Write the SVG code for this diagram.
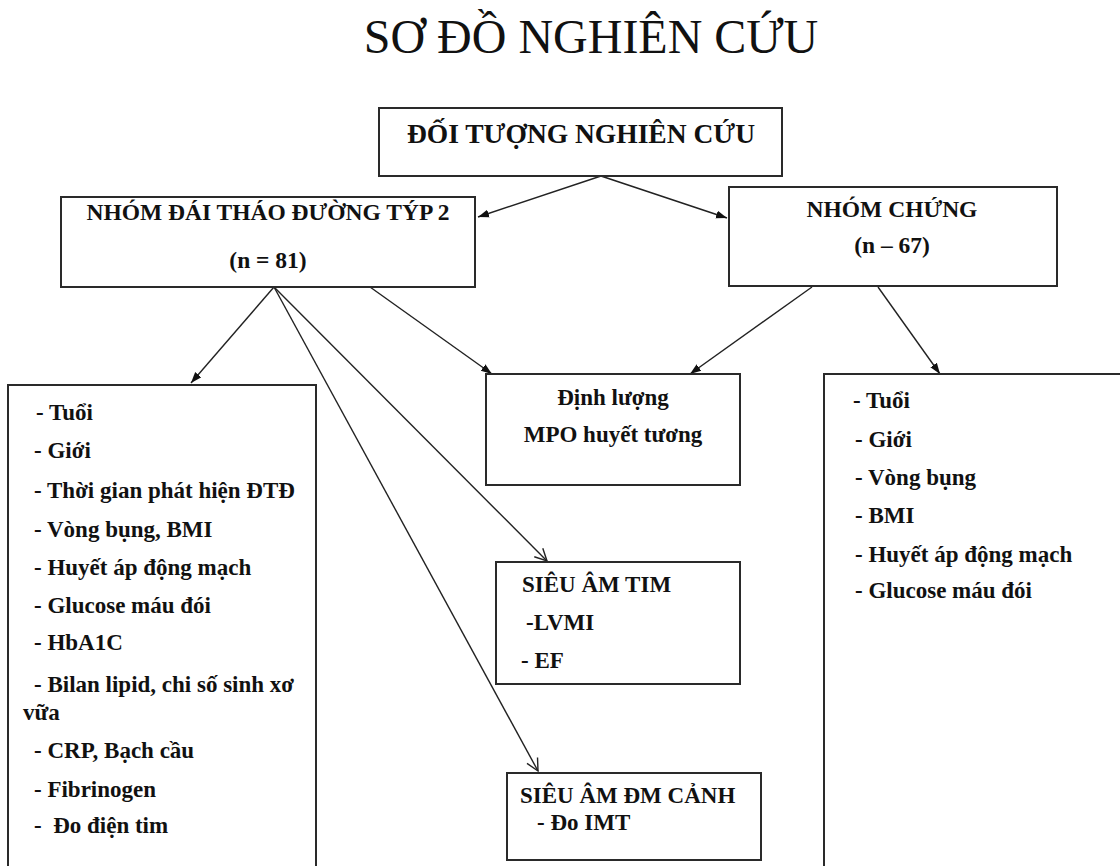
<svg xmlns="http://www.w3.org/2000/svg" width="1120" height="866" viewBox="0 0 1120 866">
<style>
.box{fill:#fff;stroke:#2a2a2a;stroke-width:2}
.t{font-family:"Liberation Serif","Times New Roman",serif;fill:#111;font-weight:bold;font-size:23px}
.h{font-size:23.5px}
.big{font-size:27.5px}
.c{text-anchor:middle}
.ln{stroke:#222;stroke-width:1.4;fill:none}
.f{marker-end:url(#fa)}
.o{marker-end:url(#oa)}
</style>
<defs>
<marker id="fa" markerWidth="12" markerHeight="10" refX="11" refY="5" orient="auto" markerUnits="userSpaceOnUse">
<path d="M0,1 L11,5 L0,9 Z" fill="#111"/>
</marker>
<marker id="oa" markerWidth="14" markerHeight="14" refX="13" refY="7" orient="auto" markerUnits="userSpaceOnUse">
<path d="M1,1 L13,7 L1,13" fill="none" stroke="#222" stroke-width="1.4"/>
</marker>
</defs>
<rect width="1120" height="866" fill="#fff"/>
<text x="591" y="53" text-anchor="middle" font-family="Liberation Serif,'Times New Roman',serif" font-size="48" fill="#111">SƠ ĐỒ NGHIÊN CỨU</text>

<g id="connectors">
<line class="ln f" x1="601" y1="176" x2="478" y2="217"/>
<line class="ln f" x1="601" y1="176" x2="727" y2="218"/>
<line class="ln f" x1="274" y1="287" x2="191" y2="383"/>
<line class="ln f" x1="370" y1="287" x2="492" y2="374"/>
<line class="ln o" x1="274" y1="287" x2="547" y2="561"/>
<line class="ln o" x1="274" y1="287" x2="538" y2="771"/>
<line class="ln f" x1="812" y1="287" x2="690" y2="374"/>
<line class="ln f" x1="878" y1="287" x2="940" y2="374"/>
</g>

<g id="doi-tuong">
<rect class="box" x="379" y="108" width="403" height="68"/>
<text class="t c big" x="581" y="143">ĐỐI TƯỢNG NGHIÊN CỨU</text>
</g>

<g id="nhom-dtd">
<rect class="box" x="61" y="197" width="414" height="90"/>
<text class="t c h" x="268" y="220">NHÓM ĐÁI THÁO ĐƯỜNG TÝP 2</text>
<text class="t c h" x="268" y="268">(n = 81)</text>
</g>

<g id="nhom-chung">
<rect class="box" x="729" y="187" width="328" height="99"/>
<text class="t c h" x="892" y="217">NHÓM CHỨNG</text>
<text class="t c h" x="892" y="253">(n – 67)</text>
</g>

<g id="list-dtd">
<rect class="box" x="8" y="385" width="308" height="500"/>
<text class="t" x="36" y="420">- Tuổi</text>
<text class="t" x="34" y="458">- Giới</text>
<text class="t" x="34" y="498">- Thời gian phát hiện ĐTĐ</text>
<text class="t" x="34" y="537">- Vòng bụng, BMI</text>
<text class="t" x="34" y="575">- Huyết áp động mạch</text>
<text class="t" x="34" y="613">- Glucose máu đói</text>
<text class="t" x="34" y="650">- HbA1C</text>
<text class="t" x="34" y="692">- Bilan lipid, chi số sinh xơ</text>
<text class="t" x="23" y="720">vữa</text>
<text class="t" x="34" y="758">- CRP, Bạch cầu</text>
<text class="t" x="34" y="797">- Fibrinogen</text>
<text class="t" x="34" y="833" xml:space="preserve">-  Đo điện tim</text>
</g>

<g id="mpo">
<rect class="box" x="486" y="374" width="254" height="111"/>
<text class="t c" x="613" y="405">Định lượng</text>
<text class="t c" x="613" y="442">MPO huyết tương</text>
</g>

<g id="sieu-am-tim">
<rect class="box" x="496" y="562" width="244" height="122"/>
<text class="t" x="522" y="592">SIÊU ÂM TIM</text>
<text class="t" x="526" y="630">-LVMI</text>
<text class="t" x="521" y="668">- EF</text>
</g>

<g id="sieu-am-canh">
<rect class="box" x="507" y="773" width="254" height="87"/>
<text class="t" x="520" y="803">SIÊU ÂM ĐM CẢNH</text>
<text class="t" x="537" y="830">- Đo IMT</text>
</g>

<g id="list-chung">
<rect class="box" x="824" y="374" width="320" height="520"/>
<text class="t" x="853" y="408">- Tuổi</text>
<text class="t" x="855" y="447">- Giới</text>
<text class="t" x="855" y="485">- Vòng bụng</text>
<text class="t" x="855" y="523">- BMI</text>
<text class="t" x="855" y="562">- Huyết áp động mạch</text>
<text class="t" x="855" y="598">- Glucose máu đói</text>
</g>
</svg>
